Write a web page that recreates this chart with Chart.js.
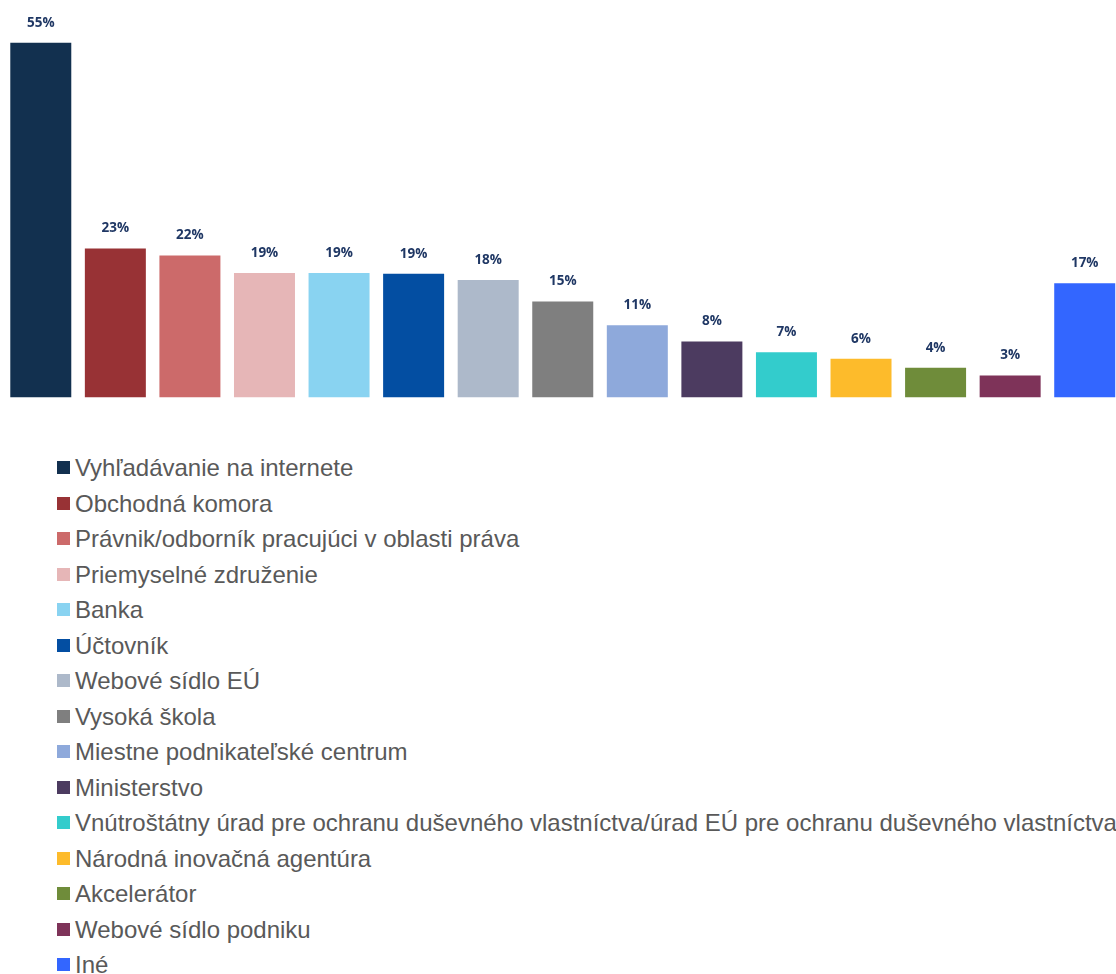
<!DOCTYPE html>
<html>
<head>
<meta charset="utf-8">
<script src="https://cdn.jsdelivr.net/npm/chart.js@4"></script>
<style>
  html, body { margin: 0; padding: 0; background: #fff; overflow: hidden; width: 1116px; height: 974px; }
  #wrap { position: absolute; left: 0; top: 0; width: 1125px; height: 410px; }
  #legend { position: absolute; left: 0; top: 450px; font-family: "Liberation Sans", Arial, sans-serif; font-size: 24px; color: #595959; }
  .item { position: relative; height: 35.5px; line-height: 35.5px; white-space: nowrap; padding-left: 75px; }
  .sw { position: absolute; left: 57px; top: 11px; width: 13px; height: 13px; }
</style>
</head>
<body>
<div id="wrap"><canvas id="c" width="1125" height="410"></canvas></div>
<div id="legend"></div>
<script>
const categories = [
  "Vyhľadávanie na internete",
  "Obchodná komora",
  "Právnik/odborník pracujúci v oblasti práva",
  "Priemyselné združenie",
  "Banka",
  "Účtovník",
  "Webové sídlo EÚ",
  "Vysoká škola",
  "Miestne podnikateľské centrum",
  "Ministerstvo",
  "Vnútroštátny úrad pre ochranu duševného vlastníctva/úrad EÚ pre ochranu duševného vlastníctva",
  "Národná inovačná agentúra",
  "Akcelerátor",
  "Webové sídlo podniku",
  "Iné"
];
const values = [55, 23.1, 22.0, 19.3, 19.3, 19.2, 18.2, 14.9, 11.2, 8.7, 7.0, 6.0, 4.6, 3.4, 17.7];
const valueLabels = ["55%", "23%", "22%", "19%", "19%", "19%", "18%", "15%", "11%", "8%", "7%", "6%", "4%", "3%", "17%"];
const colors = ["#12304F", "#983235", "#CC6A6A", "#E6B6B7", "#89D3F1", "#034EA2", "#ADB9CA", "#7F7F7F",
                "#8EA9DB", "#4C3B60", "#33CCCC", "#FDBB2B", "#6F8C3A", "#7E3359", "#3366FF"];

const labelPlugin = {
  id: 'barLabels',
  afterDatasetsDraw(chart) {
    const ctx = chart.ctx;
    const meta = chart.getDatasetMeta(0);
    ctx.save();
    ctx.font = 'bold 13.5px "Open Sans", sans-serif';
    ctx.fillStyle = '#1F3764';
    ctx.textAlign = 'center';
    ctx.textBaseline = 'middle';
    meta.data.forEach((bar, i) => {
      ctx.fillText(valueLabels[i], bar.x, bar.y - 20);
    });
    ctx.restore();
  }
};

new Chart(document.getElementById('c'), {
  type: 'bar',
  data: {
    labels: categories,
    datasets: [{
      data: values,
      backgroundColor: colors,
      borderWidth: 0,
      categoryPercentage: 1.0,
      barPercentage: 0.818
    }]
  },
  options: {
    responsive: false,
    animation: false,
    layout: { padding: { left: 3.5, right: 3, top: 10.5, bottom: 12.5 } },
    plugins: { legend: { display: false }, tooltip: { enabled: false }, title: { display: false } },
    scales: {
      x: { display: false },
      y: { display: false, min: 0, max: 60 }
    }
  },
  plugins: [labelPlugin]
});

const leg = document.getElementById('legend');
categories.forEach((name, i) => {
  const d = document.createElement('div');
  d.className = 'item';
  const s = document.createElement('span');
  s.className = 'sw';
  s.style.background = colors[i];
  d.appendChild(s);
  d.appendChild(document.createTextNode(name));
  leg.appendChild(d);
});
</script>
</body>
</html>
